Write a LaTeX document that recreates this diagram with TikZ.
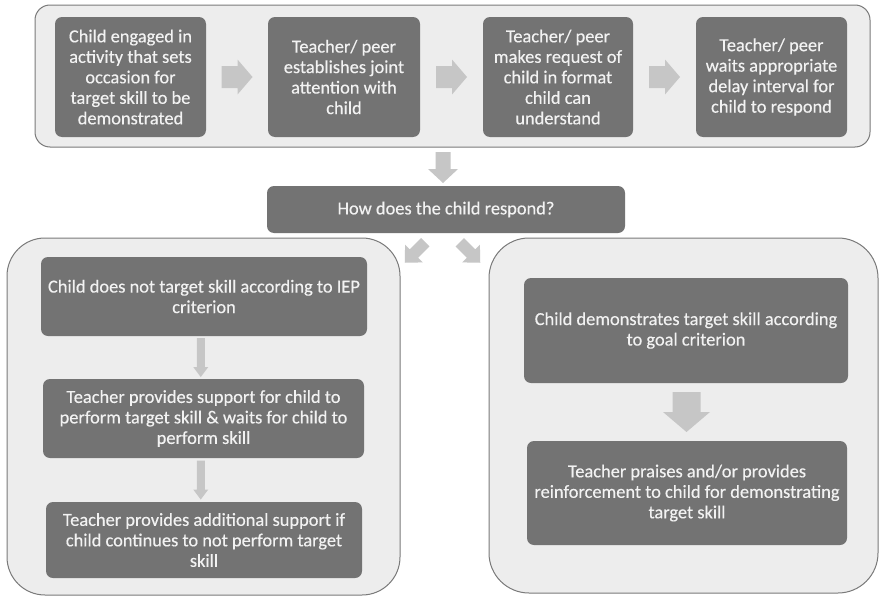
\documentclass[tikz,border=0pt]{standalone}
\usepackage{fontspec}
\setmainfont{Carlito}[FakeBold=0.35]
\usetikzlibrary{calc}
\definecolor{contfill}{HTML}{EDEDED}
\definecolor{contdraw}{HTML}{7A7A7A}
\definecolor{boxgray}{HTML}{737373}
\definecolor{txtgray}{HTML}{F2F2F2}
\definecolor{arrowgray}{HTML}{C6C6C6}
\newcommand{\blockarr}[6]{% #1 center, #2 angle, #3 length, #4 shaft width, #5 head width, #6 head length
  \begin{scope}[shift={#1}, rotate=#2]
    \fill[arrowgray] (-#3/2,-#4/2) -- (#3/2-#6,-#4/2) -- (#3/2-#6,-#5/2) -- (#3/2,0)
      -- (#3/2-#6,#5/2) -- (#3/2-#6,#4/2) -- (-#3/2,#4/2) -- cycle;
  \end{scope}}
\tikzset{
  container/.style={fill=contfill, draw=contdraw, line width=1pt, inner sep=0pt},
  dbox/.style={fill=boxgray, rounded corners=7pt, text=txtgray, align=center, inner sep=0pt,
    font=\fontsize{18.4}{20.5}\selectfont},
}
\begin{document}
\begin{tikzpicture}[x=1pt,y=-1pt]
\useasboundingbox[fill=white] (0,0) rectangle (884,597);
% containers
\node[container, rounded corners=15pt, minimum width=835pt, minimum height=142pt] (topc) at (452.5,76) {};
\node[container, rounded corners=38pt, minimum width=393pt, minimum height=357pt] (leftc) at (203.5,416.5) {};
\node[container, rounded corners=40pt, minimum width=389pt, minimum height=355pt] (rightc) at (683.5,415.5) {};
% top row
\node[dbox, minimum width=151pt, minimum height=120pt] (b1) at (130.5,77) {Child engaged in\\activity that sets\\occasion for\\target skill to be\\demonstrated};
\node[dbox, minimum width=152pt, minimum height=120pt] (b2) at (344,77) {Teacher/ peer\\establishes joint\\attention with\\child};
\node[dbox, minimum width=150pt, minimum height=120pt] (b3) at (558,77) {Teacher/ peer\\makes request of\\child in format\\child can\\understand};
\node[dbox, minimum width=151pt, minimum height=120pt] (b4) at (771.5,77) {Teacher/ peer\\waits appropriate\\delay interval for\\child to respond};
% question
\node[dbox, minimum width=358pt, minimum height=47pt] (how) at (446,209.5) {How does the child respond?};
% left column
\node[dbox, minimum width=326pt, minimum height=79pt] (l1) at (204,296.5) {Child does not target skill according to IEP\\criterion};
\node[dbox, minimum width=321pt, minimum height=79pt] (l2) at (203.5,418.5) {Teacher provides support for child to\\perform target skill \& waits for child to\\perform skill};
\node[dbox, minimum width=316pt, minimum height=76pt] (l3) at (204,540) {Teacher provides additional support if\\child continues to not perform target\\skill};
% right column
\node[dbox, minimum width=324pt, minimum height=105pt] (r1) at (686,330.5) {Child demonstrates target skill according\\to goal criterion};
\node[dbox, minimum width=320pt, minimum height=104pt] (r2) at (687,493) {Teacher praises and/or provides\\reinforcement to child for demonstrating\\target skill};
% arrows
\blockarr{($(b1.east)!0.5!(b2.west)$)}{0}{31}{22}{35}{15}
\blockarr{($(b2.east)!0.5!(b3.west)$)}{0}{31}{22}{35}{15}
\blockarr{($(b3.east)!0.5!(b4.west)$)}{0}{31}{22}{35}{15}
\blockarr{(443,167.5)}{-90}{31}{15}{30}{14}
\blockarr{(415,252.5)}{-135}{29}{12}{25}{13}
\blockarr{(470,252.5)}{-45}{29}{12}{25}{13}
\blockarr{($(l1.south)!0.5!(l2.north)+(-3,0)$)}{-90}{39}{8}{15}{10}
\blockarr{($(l2.south)!0.5!(l3.north)+(-3,0)$)}{-90}{39}{8}{15}{10}
\blockarr{($(r1.south)!0.5!(r2.north)$)}{-90}{40}{28}{47}{20}
\end{tikzpicture}
\end{document}
